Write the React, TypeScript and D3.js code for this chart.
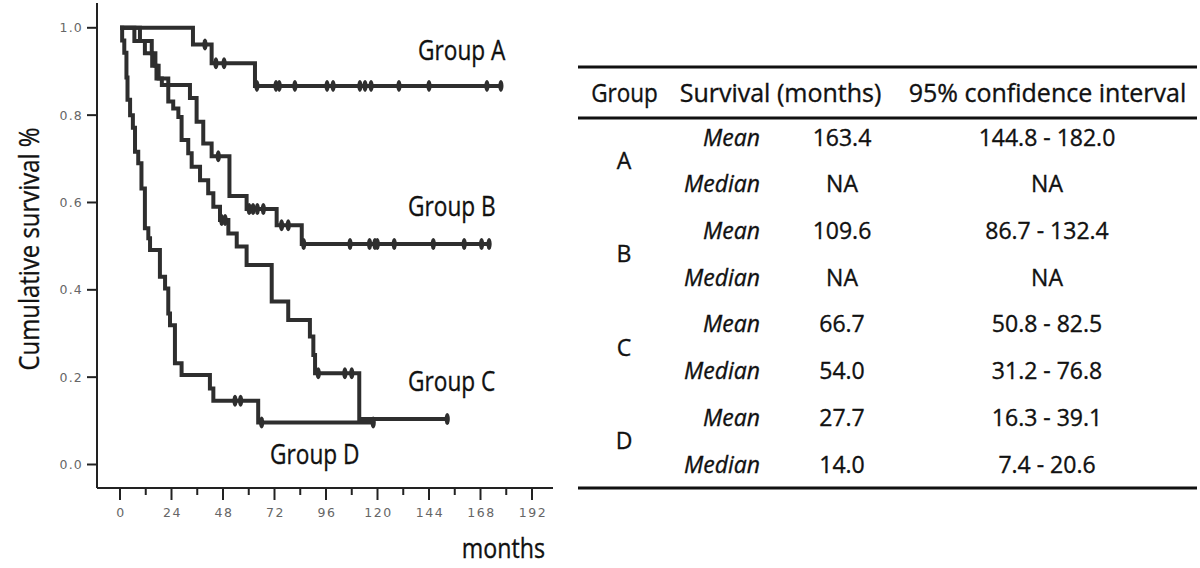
import React from "react";
import * as d3 from "d3";

// ---------- data ----------
const xTicks = [0, 24, 48, 72, 96, 120, 144, 168, 192];
const xMinorTicks = [12, 36, 60, 84, 108, 132, 156, 180];
const yTicks = [0, 0.2, 0.4, 0.6, 0.8, 1.0];

// [month, survival after event]
const groupAEvents: [number, number][] = [[34, 0.962], [42.7, 0.919], [62.9, 0.867]];
const groupACensored = [39.6, 44.7, 48.5, 63.8, 72.7, 74.2, 81.5, 96.5, 99.3, 111.8, 114.2, 117, 130, 144, 171, 177.5];

const groupBEvents: [number, number][] = [
  [6.7, 0.97], [11.6, 0.942], [15, 0.913], [17, 0.884], [19.5, 0.869], [32.6, 0.839], [35.7, 0.785],
  [38.8, 0.735], [42.7, 0.706], [51, 0.615], [59, 0.585], [73, 0.548], [84.7, 0.505],
];
const groupBCensored = [45.8, 60.2, 62, 64, 66.8, 75.3, 78.4, 85.6, 107.2, 116.3, 118.8, 119.9, 127.8, 146, 160.4, 168.5, 172];

const groupCEvents: [number, number][] = [
  [9.3, 0.97], [14.8, 0.942], [16.5, 0.913], [18, 0.884], [22.5, 0.831], [24.8, 0.815], [27.2, 0.796],
  [28.7, 0.743], [31.8, 0.713], [33.4, 0.682], [37.3, 0.651], [41.1, 0.621], [43.5, 0.59], [46.6, 0.56],
  [50.5, 0.529], [54.4, 0.499], [59, 0.457], [70.7, 0.373], [78.4, 0.331], [88.5, 0.293], [90.1, 0.251],
  [90.9, 0.209], [111.5, 0.104],
];
const groupCCensored = [47.4, 49, 92.4, 104.8, 108, 152.5];

const groupDEvents: [number, number][] = [
  [1, 0.971], [2, 0.943], [3, 0.886], [3.5, 0.835], [4.7, 0.8], [6, 0.771], [7, 0.716], [8.5, 0.69],
  [10, 0.632], [11.6, 0.541], [13.2, 0.518], [14, 0.491], [18.6, 0.43], [21, 0.403], [22.5, 0.346],
  [23.3, 0.319], [25.6, 0.232], [28.7, 0.205], [41.9, 0.174], [43.5, 0.146], [64.4, 0.096],
];
const groupDCensored = [53.6, 56.2, 66, 118];

const groupNames = ["Group A", "Group B", "Group C", "Group D"];

// table
const tableHeaders = ["Group", "Survival (months)", "95% confidence interval"];
const tableGroups = ["A", "B", "C", "D"];
const statLabels = ["Mean", "Median", "Mean", "Median", "Mean", "Median", "Mean", "Median"];
const survivalValues = ["163.4", "NA", "109.6", "NA", "66.7", "54.0", "27.7", "14.0"];
const ciValues = ["144.8 - 182.0", "NA", "86.7 - 132.4", "NA", "50.8 - 82.5", "31.2 - 76.8", "16.3 - 39.1", "7.4 - 20.6"];

// ---------- layout ----------
const W = 1200;
const H = 568;
const x = d3.scaleLinear().domain([0, 192]).range([120, 532]);
const y = d3.scaleLinear().domain([0, 1]).range([464.5, 27.8]);
const axisX = 97;
const axisY = 488;

const FONT = "'Open Sans', 'Noto Sans', sans-serif";
const TICKFONT = "'DejaVu Sans', sans-serif";
const LINE = "#2e2e2e";

const groups = [
  { events: groupAEvents, censored: groupACensored, label: groupNames[0], lx: 418, ly: 60 },
  { events: groupBEvents, censored: groupBCensored, label: groupNames[1], lx: 408, ly: 216 },
  { events: groupCEvents, censored: groupCCensored, label: groupNames[2], lx: 408, ly: 391 },
  { events: groupDEvents, censored: groupDCensored, label: groupNames[3], lx: 270, ly: 464 },
];

function survAt(events: [number, number][], t: number) {
  let s = 1;
  for (const [m, v] of events) if (m <= t) s = v;
  return s;
}

const stepLine = d3
  .line<[number, number]>()
  .x((d) => x(d[0]))
  .y((d) => y(d[1]))
  .curve(d3.curveStepAfter);

const rowY = d3.scaleLinear().domain([0, 7]).range([137, 464]);

function T(props: {
  x: number; y: number; anchor?: string; size?: number; sx?: number; italic?: boolean; children: React.ReactNode;
}) {
  const { x: tx, y: ty, anchor = "start", size = 23, sx = 1, italic = false } = props;
  return (
    <text
      transform={`translate(${tx},${ty}) scale(${sx},1)`}
      textAnchor={anchor as any}
      fontFamily={FONT}
      fontSize={size}
      fontStyle={italic ? "italic" : "normal"}
      fill="#111"
      stroke="#111"
      strokeWidth={0.35}
    >
      {props.children}
    </text>
  );
}

export default function App() {
  const tableL = 578;
  const tableR = 1197;
  return (
    <svg width={W} height={H} style={{ position: "absolute", left: 0, top: 0, background: "#fff" }}>
      <rect x={0} y={0} width={W} height={H} fill="#fff" />
      {/* axes */}
      <line x1={axisX} y1={3} x2={axisX} y2={axisY} stroke="#222" strokeWidth={2} />
      <line x1={axisX} y1={axisY} x2={553} y2={axisY} stroke="#222" strokeWidth={2} />
      {yTicks.map((t) => (
        <g key={"y" + t}>
          <line x1={87} x2={axisX} y1={y(t)} y2={y(t)} stroke="#222" strokeWidth={2} />
          <text x={83} y={y(t) + 4.5} textAnchor="end" fontFamily={TICKFONT} fontSize={12.5} letterSpacing={1.2} fill="#666">
            {t.toFixed(1)}
          </text>
        </g>
      ))}
      {xTicks.map((t) => (
        <g key={"x" + t}>
          <line x1={x(t)} x2={x(t)} y1={axisY} y2={axisY + 12} stroke="#222" strokeWidth={2} />
          <text x={x(t) + 1} y={517} textAnchor="middle" fontFamily={TICKFONT} fontSize={12.5} letterSpacing={1.5} fill="#666">
            {t}
          </text>
        </g>
      ))}
      {xMinorTicks.map((t) => (
        <line key={"xm" + t} x1={x(t)} x2={x(t)} y1={axisY} y2={axisY + 7} stroke="#222" strokeWidth={2} />
      ))}
      {/* curves */}
      {groups.map((g, i) => {
        const last = g.censored[g.censored.length - 1];
        const pts: [number, number][] = [[0, 1], ...g.events, [last, survAt(g.events, last)]];
        return (
          <g key={"g" + i}>
            <path d={stepLine(pts) || ""} fill="none" stroke={LINE} strokeWidth={4} strokeLinejoin="miter" />
            {g.censored.map((c, j) => {
              const s = survAt(g.events, c);
              return (
                <ellipse key={j} cx={x(c)} cy={y(s)} rx={2.6} ry={6} fill={LINE} />
              );
            })}
            <T x={g.lx} y={g.ly} size={27} sx={0.84}>{g.label}</T>
          </g>
        );
      })}
      {/* axis titles */}
      <text
        transform={`translate(39,249) rotate(-90) scale(0.886,1)`}
        textAnchor="middle"
        fontFamily={FONT}
        fontSize={27}
        fill="#111"
        stroke="#111"
        strokeWidth={0.35}
      >
        Cumulative survival %
      </text>
      <T x={545} y={558} anchor="end" size={27} sx={0.86}>months</T>

      {/* table */}
      <line x1={tableL} x2={tableR} y1={67} y2={67} stroke="#111" strokeWidth={3} />
      <line x1={tableL} x2={tableR} y1={118} y2={118} stroke="#111" strokeWidth={3} />
      <line x1={tableL} x2={tableR} y1={488} y2={488} stroke="#111" strokeWidth={3} />
      <T x={624.5} y={102} anchor="middle" size={25} sx={0.9}>{tableHeaders[0]}</T>
      <T x={780.5} y={102} anchor="middle" size={25}>{tableHeaders[1]}</T>
      <T x={1047.5} y={102} anchor="middle" size={25}>{tableHeaders[2]}</T>
      {tableGroups.map((gname, i) => (
        <T key={gname} x={624} y={(rowY(i * 2) + rowY(i * 2 + 1)) / 2 + 8.5} anchor="middle">{gname}</T>
      ))}
      {statLabels.map((s, i) => (
        <T key={"s" + i} x={760} y={rowY(i) + 8.5} anchor="end" italic>{s}</T>
      ))}
      {survivalValues.map((v, i) => (
        <T key={"v" + i} x={842} y={rowY(i) + 8.5} anchor="middle">{v}</T>
      ))}
      {ciValues.map((v, i) => (
        <T key={"c" + i} x={1047} y={rowY(i) + 8.5} anchor="middle">{v}</T>
      ))}
    </svg>
  );
}
